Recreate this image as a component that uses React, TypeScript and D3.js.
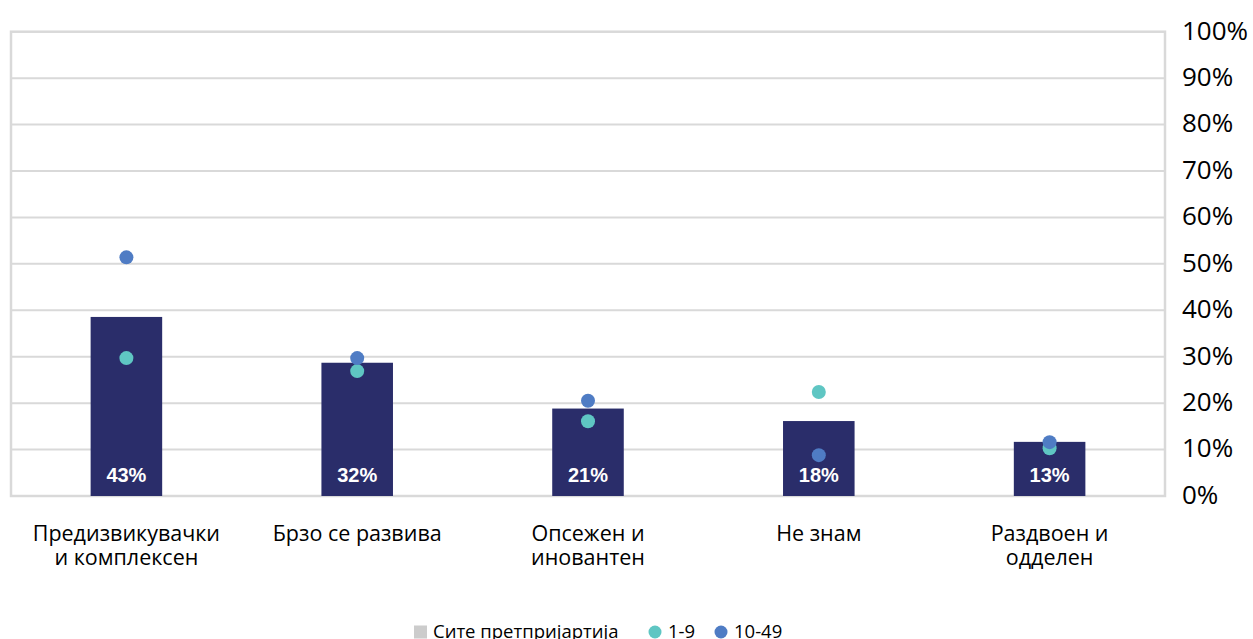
import { useEffect, useRef } from "react";
import * as d3 from "d3";

const categories = [
  ["Предизвикувачки", "и комплексен"],
  ["Брзо се развива"],
  ["Опсежен и", "иновантен"],
  ["Не знам"],
  ["Раздвоен и", "одделен"],
];
const allCompanies = [0.43, 0.32, 0.21, 0.18, 0.13];
const small = [0.297, 0.269, 0.161, 0.224, 0.103];
const medium = [0.514, 0.297, 0.205, 0.088, 0.116];
const yTicks = [0, 0.1, 0.2, 0.3, 0.4, 0.5, 0.6, 0.7, 0.8, 0.9, 1];
const legendItems = [
  { label: "Сите претпријартија", color: "#cccccc", shape: "square" },
  { label: "1-9", color: "#5fc6c3", shape: "circle" },
  { label: "10-49", color: "#4f7cc4", shape: "circle" },
];

const App = () => {
  const chartRef = useRef<SVGSVGElement | null>(null);

  useEffect(() => {
    if (!chartRef.current) return;
    d3.select(chartRef.current).selectAll("*").remove();

    const width = 1253;
    const height = 639;
    const plot = { left: 11, right: 1165, top: 31.7, bottom: 496 };

    const svg = d3.select(chartRef.current).attr("width", width).attr("height", height);

    const names = categories.map((c) => c.join(" "));
    const x = d3
      .scaleBand()
      .domain(names)
      .range([plot.left, plot.right])
      .paddingInner(0.69)
      .paddingOuter(0.345);
    const y = d3.scaleLinear().domain([0, 1]).range([plot.bottom, plot.top]);
    // bars sit on a hidden secondary axis
    const yBar = d3.scaleLinear().domain([0, 1.115]).range([plot.bottom, plot.top]);
    const cx = (i: number) => x(names[i])! + x.bandwidth() / 2;

    // gridlines
    svg
      .append("g")
      .selectAll("line")
      .data(yTicks.slice(1, -1))
      .enter()
      .append("line")
      .attr("x1", plot.left)
      .attr("x2", plot.right)
      .attr("y1", (d) => y(d))
      .attr("y2", (d) => y(d))
      .attr("stroke", "#d9d9d9")
      .attr("stroke-width", 2);

    // frame
    svg
      .append("rect")
      .attr("x", plot.left)
      .attr("y", plot.top)
      .attr("width", plot.right - plot.left)
      .attr("height", plot.bottom - plot.top)
      .attr("fill", "none")
      .attr("stroke", "#d9d9d9")
      .attr("stroke-width", 2.5);

    // right axis labels
    svg
      .append("g")
      .selectAll("text")
      .data(yTicks)
      .enter()
      .append("text")
      .attr("x", 1182)
      .attr("y", (d) => y(d))
      .attr("dy", "0.3em")
      .attr("font-family", "'Open Sans', sans-serif")
      .attr("font-size", 26)
      .attr("fill", "#000")
      .text((d) => d3.format(".0%")(d));

    // bars
    svg
      .append("g")
      .selectAll("rect")
      .data(allCompanies)
      .enter()
      .append("rect")
      .attr("x", (_, i) => x(names[i])!)
      .attr("y", (d) => yBar(d))
      .attr("width", x.bandwidth())
      .attr("height", (d) => plot.bottom - yBar(d))
      .attr("fill", "#2a2d6a");

    // bar labels
    svg
      .append("g")
      .selectAll("text")
      .data(allCompanies)
      .enter()
      .append("text")
      .attr("x", (_, i) => cx(i))
      .attr("y", 482)
      .attr("text-anchor", "middle")
      .attr("font-family", "'Liberation Sans', Arial, sans-serif")
      .attr("font-weight", "bold")
      .attr("font-size", 20)
      .attr("fill", "#fff")
      .text((d) => d3.format(".0%")(d));

    // dots
    const dots = [
      { values: small, color: legendItems[1].color },
      { values: medium, color: legendItems[2].color },
    ];
    dots.forEach((s) => {
      svg
        .append("g")
        .selectAll("circle")
        .data(s.values)
        .enter()
        .append("circle")
        .attr("cx", (_, i) => cx(i))
        .attr("cy", (d) => y(d))
        .attr("r", 7)
        .attr("fill", s.color);
    });

    // category labels
    const cat = svg
      .append("g")
      .selectAll("text")
      .data(categories)
      .enter()
      .append("text")
      .attr("x", (_, i) => cx(i))
      .attr("y", 541)
      .attr("text-anchor", "middle")
      .attr("font-family", "'Open Sans', sans-serif")
      .attr("font-size", 21.5)
      .attr("fill", "#000");
    cat
      .selectAll("tspan")
      .data((d) => d)
      .enter()
      .append("tspan")
      .attr("x", function () {
        return (this as SVGTSpanElement).parentElement!.getAttribute("x");
      })
      .attr("dy", (_, j) => (j === 0 ? 0 : 24))
      .text((d) => d);

    // legend
    const legend = svg.append("g").attr("font-family", "'Open Sans', sans-serif").attr("font-size", 18.5);
    const legendX = [414, 648, 714];
    legendItems.forEach((item, i) => {
      const g = legend.append("g").attr("transform", `translate(${legendX[i]},632)`);
      if (item.shape === "square") {
        g.append("rect").attr("x", 0).attr("y", -6.5).attr("width", 13).attr("height", 13).attr("fill", item.color);
      } else {
        g.append("circle").attr("cx", 7).attr("cy", 0).attr("r", 6.5).attr("fill", item.color);
      }
      g.append("text")
        .attr("x", i === 0 ? 19 : 20)
        .attr("dy", "0.35em")
        .attr("fill", "#000")
        .text(item.label);
    });
  }, []);

  return (
    <div style={{ position: "absolute", left: 0, top: 0 }}>
      <svg ref={chartRef} style={{ display: "block" }}></svg>
    </div>
  );
};

export default App;
